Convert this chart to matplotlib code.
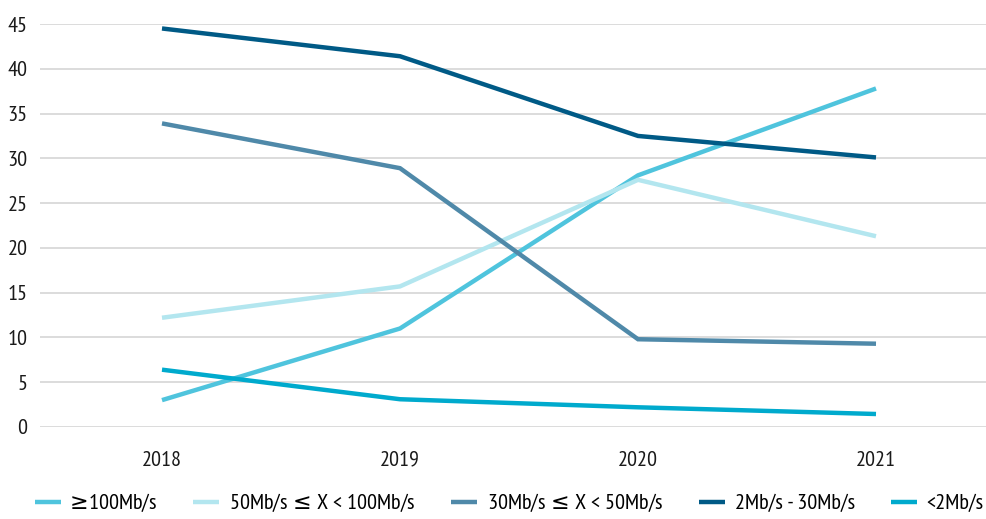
import matplotlib
matplotlib.use("Agg")
import matplotlib.pyplot as plt
from matplotlib import font_manager

names = {f.name for f in font_manager.fontManager.ttflist}
fam = 'DejaVu Sans'
for cand in ['PT Sans Narrow', 'Roboto Condensed', 'Fira Sans Condensed', 'Open Sans Condensed',
             'Archivo Narrow', 'Liberation Sans Narrow', 'Liberation Sans']:
    if cand in names:
        fam = cand
        break
plt.rcParams['font.family'] = [fam, 'DejaVu Sans']

years = ['2018', '2019', '2020', '2021']
series_names = ['≥100Mb/s', '50Mb/s ≤ X < 100Mb/s', '30Mb/s ≤ X < 50Mb/s', '2Mb/s - 30Mb/s', '<2Mb/s']
s_100 = [3.0, 11.0, 28.1, 37.8]
s_50_100 = [12.2, 15.7, 27.6, 21.3]
s_30_50 = [33.9, 28.9, 9.8, 9.3]
s_2_30 = [44.5, 41.4, 32.5, 30.1]
s_lt2 = [6.4, 3.1, 2.2, 1.45]
colors = ['#4FC4DD', '#B3E6EF', '#4F89A9', '#005A86', '#00AACD']
yticks = [0, 5, 10, 15, 20, 25, 30, 35, 40, 45]

fig = plt.figure(figsize=(9.86, 5.19), dpi=100)
ax = fig.add_axes([40/986, 1-427/519, 1-40/986, (427-24)/519])

x = list(range(len(years)))
all_s = [s_100, s_50_100, s_30_50, s_2_30, s_lt2]
lines = []
for vals, c, n in zip(all_s, colors, series_names):
    l, = ax.plot(x, vals, color=c, lw=3.2, label=n, solid_capstyle='butt', solid_joinstyle='miter', zorder=3)
    lines.append(l)

ax.set_xlim((40-162)/238, (986-162)/238)
ax.set_ylim(0, 45)
ax.set_yticks(yticks)
ax.set_xticks(x)
ax.set_xticklabels(years)
ax.grid(axis='y', color='#D9D9D9', lw=1.3)
ax.set_axisbelow(True)
for s in ax.spines.values():
    s.set_visible(False)
ax.tick_params(axis='both', length=0, labelsize=16, colors='#1a1a1a')
ax.tick_params(axis='y', pad=9)
ax.tick_params(axis='x', pad=17)

disp = [n.replace('≤', r'$\!\leq\!$').replace('≥', r'$\!\!\geq\!$') for n in series_names]
fig.legend(handles=lines, labels=disp, loc='center left', ncol=5, frameon=False,
           fontsize=16, handlelength=1.17, columnspacing=1.6, handletextpad=0.45,
           borderpad=0, borderaxespad=0, bbox_to_anchor=(35/986, 1-503/519))

fig.savefig('out.png', dpi=100)
